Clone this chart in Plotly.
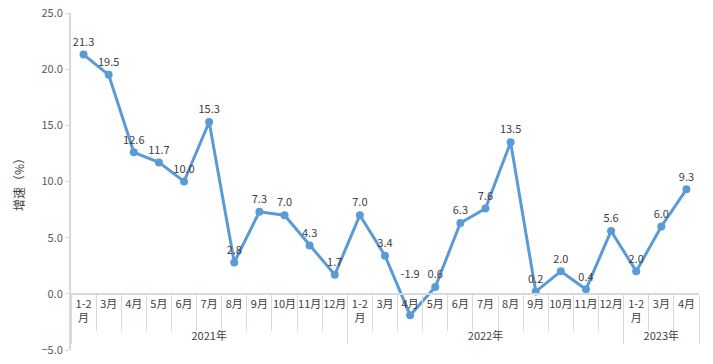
import plotly.graph_objects as go

years = ["2021年"] * 11 + ["2022年"] * 11 + ["2023年"] * 3
months = ["1-2<br>月", "3月", "4月", "5月", "6月", "7月", "8月", "9月", "10月", "11月", "12月",
          "1-2<br>月", "3月", "4月", "5月", "6月", "7月", "8月", "9月", "10月", "11月", "12月",
          "1-2<br>月", "3月", "4月"]
growth = [21.3, 19.5, 12.6, 11.7, 10.0, 15.3, 2.8, 7.3, 7.0, 4.3, 1.7,
          7.0, 3.4, -1.9, 0.6, 6.3, 7.6, 13.5, 0.2, 2.0, 0.4, 5.6,
          2.0, 6.0, 9.3]

FONT = "Noto Sans CJK SC"
TXT = "#404040"
GRID = "#d9d9d9"

# negative values get their label lifted above the axis labels
labels = [f"{v:.1f}" + ("<br>\u00a0<br>\u00a0" if v < 0 else "") for v in growth]

fig = go.Figure(go.Scatter(
    x=[years, months], y=growth,
    mode="lines+markers+text",
    line=dict(color="#5B9BD5", width=3),
    marker=dict(color="#5B9BD5", size=8),
    text=labels,
    textposition="top center",
    textfont=dict(family=FONT, size=11, color=TXT),
    cliponaxis=False,
    hoverinfo="skip",
))

fig.update_layout(
    width=713, height=364,
    margin=dict(l=71, r=14, t=13, b=14),
    paper_bgcolor="white", plot_bgcolor="white",
    showlegend=False,
    font=dict(family=FONT, size=11, color=TXT),
    xaxis=dict(
        type="multicategory",
        range=[-0.5, len(growth) - 0.5], autorange=False,
        anchor="free", position=5 / 30,
        showline=True, linecolor=GRID, linewidth=2,
        ticks="outside", ticklen=36, tickcolor=GRID, tickwidth=1,
        tickson="boundaries", tickangle=0,
        showdividers=True, dividercolor=GRID, dividerwidth=1,
        showgrid=False, zeroline=False, automargin=False,
        tickfont=dict(family=FONT, size=11, color=TXT),
    ),
    yaxis=dict(
        range=[-5, 25], dtick=5, tick0=0, tickformat=".1f",
        showline=True, linecolor=GRID, linewidth=2,
        ticks="outside", ticklen=4, tickcolor=GRID,
        showgrid=False, zeroline=False, automargin=False,
        tickfont=dict(family=FONT, size=11, color="#595959"),
        title=dict(text="增速（%）", standoff=14,
                   font=dict(family=FONT, size=12, color=TXT)),
    ),
)

fig.write_html("out.html", config={"displayModeBar": False},
               post_script="document.body.style.margin='0';")
